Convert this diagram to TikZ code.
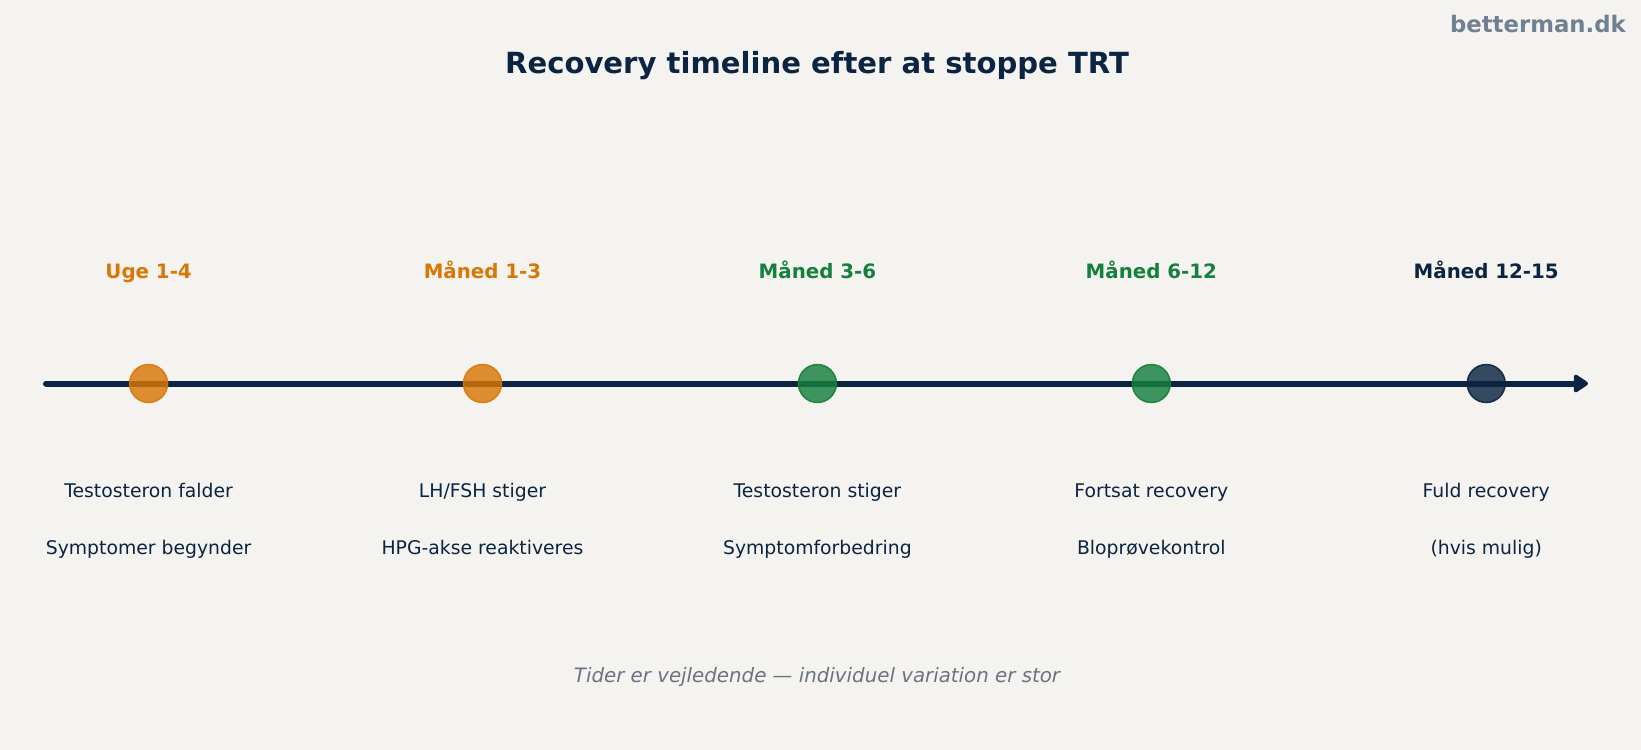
\documentclass[tikz,border=0pt]{standalone}
\usepackage{fontspec}
\setmainfont{DejaVu Sans}
\usetikzlibrary{arrows.meta}
\definecolor{bg}{HTML}{F4F3F0}
\definecolor{navy}{HTML}{0B2442}
\definecolor{orng}{HTML}{D97706}
\definecolor{grn}{HTML}{15803D}
\definecolor{wm}{HTML}{708090}
\definecolor{foot}{HTML}{6B7280}
\tikzset{
  dot/.style={circle,minimum size=38bp,inner sep=0pt,fill=#1,draw=#1,line width=1.5bp,fill opacity=0.82,draw opacity=0.9},
  phase/.style={text=#1,font=\fontsize{19.8bp}{23bp}\selectfont\bfseries,anchor=base,inner sep=0pt},
  desc/.style={text=navy,font=\fontsize{18.8bp}{22bp}\selectfont,anchor=base,inner sep=0pt},
}
\begin{document}
\begin{tikzpicture}[x=1bp,y=-1bp]
\useasboundingbox[fill=bg] (0,0) rectangle (1641,750);
\node[font=\fontsize{29.1bp}{35bp}\selectfont\bfseries,text=navy,inner sep=0pt,anchor=base] (title) at (817,74) {Recovery timeline efter at stoppe TRT};
\node[font=\fontsize{22.8bp}{27bp}\selectfont\bfseries,text=wm,inner sep=0pt,anchor=base east] (wmark) at (1626,33) {betterman.dk};
\coordinate (start) at (46,383.5);
\coordinate (end) at (1588,383.5);
\draw[navy,line width=6bp,line cap=round,-{Triangle[length=16bp,width=20bp,round]}] (start) -- (end);
\node[dot=orng] (c1) at (148.6,383.5) {};
\node[dot=orng] (c2) at (482.5,383.5) {};
\node[dot=grn] (c3) at (817.4,383.5) {};
\node[dot=grn] (c4) at (1151.3,383.5) {};
\node[dot=navy] (c5) at (1486.2,383.5) {};
\node[phase=orng] (p1) at (148.6,278.3) {Uge 1-4};
\node[phase=orng] (p2) at (482.5,278.3) {Måned 1-3};
\node[phase=grn] (p3) at (817.4,278.3) {Måned 3-6};
\node[phase=grn] (p4) at (1151.3,278.3) {Måned 6-12};
\node[phase=navy] (p5) at (1486.2,278.3) {Måned 12-15};
\node[desc] (a1) at (148.6,497.5) {Testosteron falder};
\node[desc] (b1) at (148.6,554.2) {Symptomer begynder};
\node[desc] (a2) at (482.5,497.5) {LH/FSH stiger};
\node[desc] (b2) at (482.5,554.2) {HPG-akse reaktiveres};
\node[desc] (a3) at (817.4,497.5) {Testosteron stiger};
\node[desc] (b3) at (817.4,554.2) {Symptomforbedring};
\node[desc] (a4) at (1151.3,497.5) {Fortsat recovery};
\node[desc] (b4) at (1151.3,554.2) {Bloprøvekontrol};
\node[desc] (a5) at (1486.2,497.5) {Fuld recovery};
\node[desc] (b5) at (1486.2,554.2) {(hvis mulig)};
\node[font=\fontsize{19.8bp}{23bp}\selectfont\itshape,text=foot,inner sep=0pt,anchor=base] (note) at (817,682.7) {Tider er vejledende — individuel variation er stor};
\end{tikzpicture}
\end{document}
